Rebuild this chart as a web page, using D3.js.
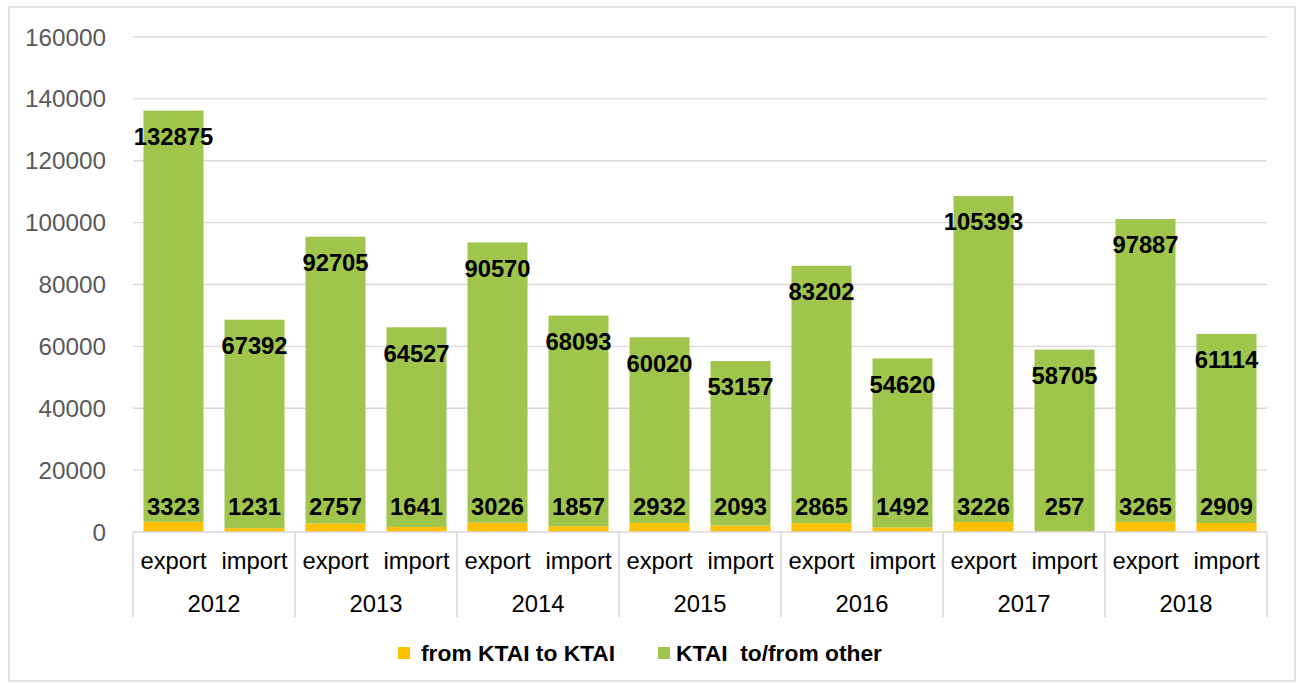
<!DOCTYPE html>
<html><head><meta charset="utf-8">
<script src="https://cdn.jsdelivr.net/npm/d3@7"></script>
<style>body{margin:0;background:#fff;}svg{display:block;font-family:"Liberation Sans",Arial,sans-serif;}</style>
</head><body><svg id="c" width="1302" height="684"></svg>
<script>
const years = ["2012","2013","2014","2015","2016","2017","2018"];
const flows = ["export","import"];
const ktaiToKtai = [3323,1231,2757,1641,3026,1857,2932,2093,2865,1492,3226,257,3265,2909];
const ktaiOther = [132875,67392,92705,64527,90570,68093,60020,53157,83202,54620,105393,58705,97887,61114];
const yTicks = [0,20000,40000,60000,80000,100000,120000,140000,160000];
const seriesNames = ["from KTAI to KTAI","KTAI  to/from other"];
const colors = ["#FFC000","#9FC54D"];

const svg = d3.select("#c");
svg.append("rect").attr("x",9).attr("y",7).attr("width",1286).attr("height",674)
  .attr("fill","#fff").attr("stroke","#d9d9d9").attr("stroke-width",1.5);

const cats = [];
years.forEach(y=>flows.forEach(f=>cats.push(y+"|"+f)));
const x = d3.scaleBand().domain(cats).range([133,1267]).paddingInner(0.259).paddingOuter(0.1295);
const y = d3.scaleLinear().domain([0,160000]).range([532,37]);

// gridlines
svg.append("g").selectAll("line").data(yTicks.slice(1)).join("line")
  .attr("x1",133).attr("x2",1267).attr("y1",d=>y(d)).attr("y2",d=>y(d))
  .attr("stroke","#d9d9d9").attr("stroke-width",1.3);
// y labels
svg.append("g").selectAll("text").data(yTicks).join("text")
  .attr("x",106).attr("y",d=>y(d)).attr("dy","0.35em").attr("text-anchor","end")
  .attr("font-size",24.3).attr("fill","#595959").text(d=>d);

const data = cats.map((c,i)=>({c, a:ktaiToKtai[i], b:ktaiOther[i]}));
// bars
svg.append("g").selectAll("rect").data(data).join("rect")
  .attr("x",d=>x(d.c)).attr("width",x.bandwidth())
  .attr("y",d=>y(d.a)).attr("height",d=>y(0)-y(d.a)).attr("fill",colors[0]);
svg.append("g").selectAll("rect").data(data).join("rect")
  .attr("x",d=>x(d.c)).attr("width",x.bandwidth())
  .attr("y",d=>y(d.a+d.b)).attr("height",d=>y(d.a)-y(d.a+d.b)).attr("fill",colors[1]);

// axis line
svg.append("line").attr("x1",133).attr("x2",1267).attr("y1",y(0)).attr("y2",y(0))
  .attr("stroke","#d9d9d9").attr("stroke-width",1.5);
// group separators
const step = x.step();
const seps = d3.range(years.length+1).map(i=>133+i*2*step);
svg.append("g").selectAll("line").data(seps).join("line")
  .attr("x1",d=>d).attr("x2",d=>d).attr("y1",y(0)).attr("y2",617)
  .attr("stroke","#d9d9d9").attr("stroke-width",1.5);

// labels
const lab = svg.append("g").attr("font-weight","bold").attr("font-size",23.8).attr("text-anchor","middle").attr("fill","#000");
lab.selectAll("text.a").data(data).join("text").attr("class","a")
  .attr("x",d=>x(d.c)+x.bandwidth()/2).attr("y",y(0)-25).attr("dy","0.35em").text(d=>d.a);
lab.selectAll("text.b").data(data).join("text").attr("class","b")
  .attr("x",d=>x(d.c)+x.bandwidth()/2).attr("y",d=>y(d.a+d.b)+26).attr("dy","0.35em").text(d=>d.b);

// category labels
svg.append("g").selectAll("text").data(cats).join("text")
  .attr("x",d=>x(d)+x.bandwidth()/2).attr("y",561).attr("dy","0.35em").attr("text-anchor","middle")
  .attr("font-size",23.8).attr("fill","#000").text(d=>d.split("|")[1]);
svg.append("g").selectAll("text").data(years).join("text")
  .attr("x",(d,i)=>133+(i*2+1)*step).attr("y",604).attr("dy","0.35em").attr("text-anchor","middle")
  .attr("font-size",23.8).attr("fill","#000").text(d=>d);

// legend
const leg = [{x:398,tx:421},{x:658,tx:676}];
const lg = svg.append("g");
seriesNames.forEach((n,i)=>{
  lg.append("rect").attr("x",leg[i].x).attr("y",647).attr("width",12).attr("height",12).attr("fill",colors[i]);
  lg.append("text").attr("x",leg[i].tx).attr("y",653).attr("dy","0.35em").attr("font-size",22.8)
    .attr("font-weight","bold").attr("fill","#000").attr("xml:space","preserve").style("white-space","pre").text(n);
});
</script></body></html>
